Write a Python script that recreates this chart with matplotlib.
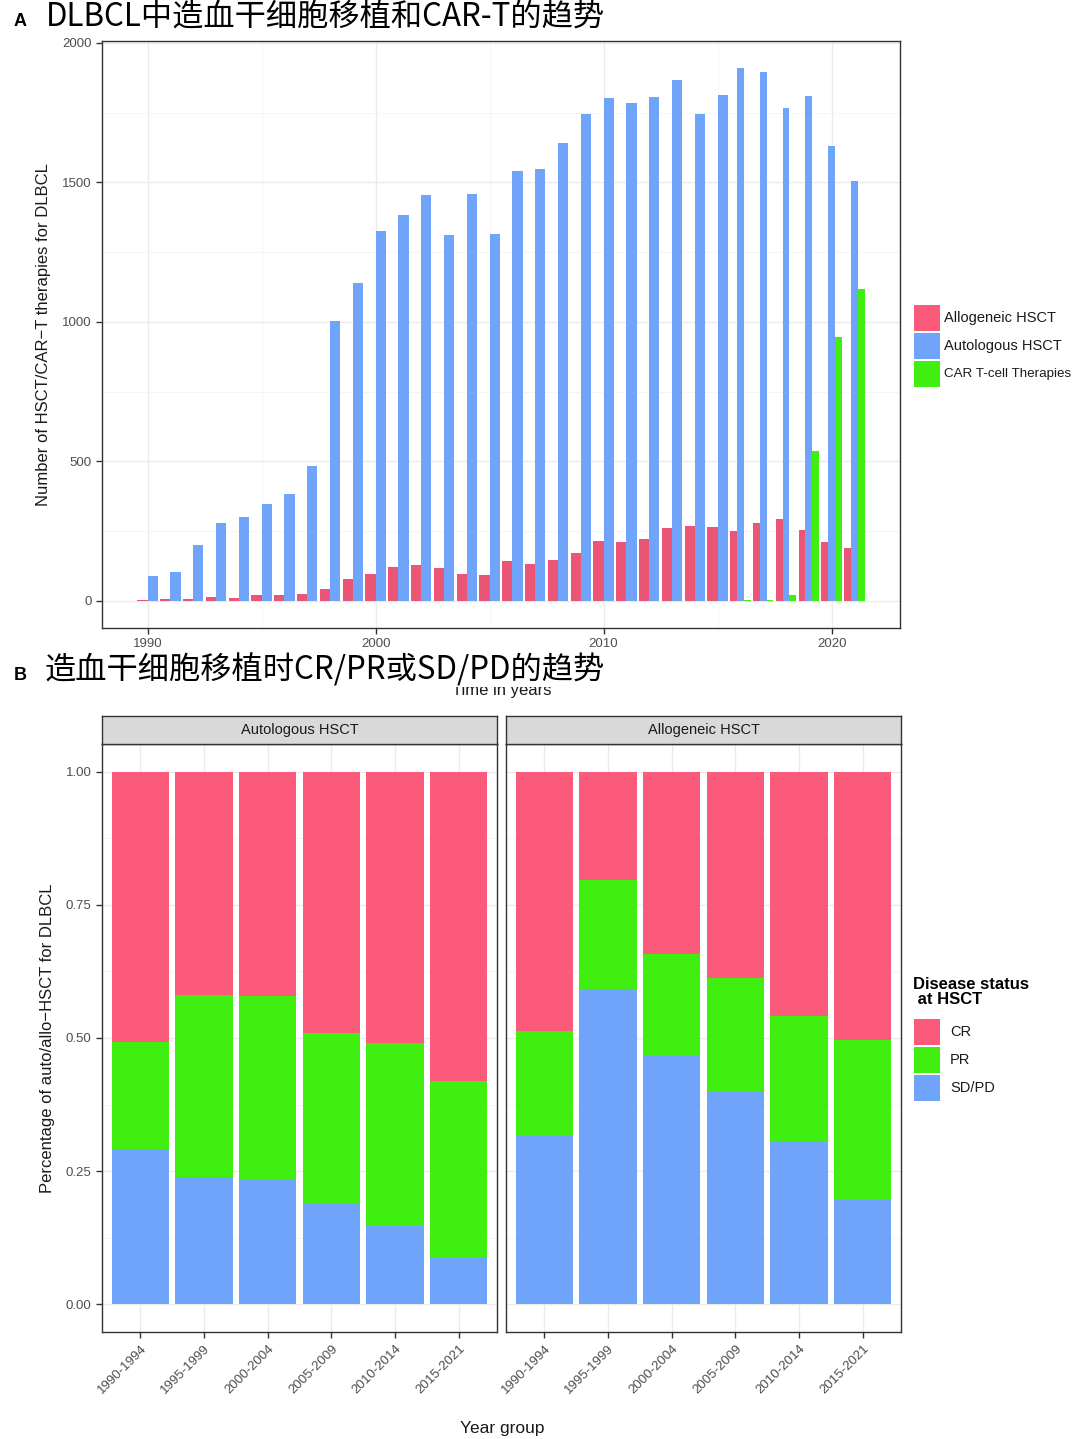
import numpy as np
import matplotlib
matplotlib.use("Agg")
from matplotlib import pyplot as plt
from matplotlib.patches import Rectangle

# ---- data, panel A (counts per year) ----
years = list(range(1990, 2022))
allo = [5, 8, 6, 13, 10, 22, 22, 26, 42, 80, 95, 120, 129, 117, 96, 92,
        142, 133, 147, 171, 214, 213, 222, 260, 269, 266, 251, 281, 294, 255, 212, 191]
auto = [90, 104, 200, 280, 301, 348, 383, 484, 1004, 1140, 1326, 1383, 1455, 1312, 1459, 1315,
        1541, 1548, 1642, 1746, 1803, 1785, 1806, 1867, 1746, 1814, 1910, 1896, 1767, 1810, 1631, 1505]
cart = [None] * 26 + [3, 5, 23, 538, 946, 1118]

# ---- data, panel B (proportions) ----
year_groups = ["1990-1994", "1995-1999", "2000-2004", "2005-2009", "2010-2014", "2015-2021"]
auto_sd = [0.289, 0.238, 0.233, 0.188, 0.146, 0.086]
auto_pr = [0.204, 0.342, 0.345, 0.322, 0.344, 0.334]
allo_sd = [0.315, 0.591, 0.467, 0.400, 0.304, 0.195]
allo_pr = [0.199, 0.206, 0.190, 0.212, 0.238, 0.302]

RED = "#FB5A7A"
RED_A = "#EC5676"
BLUE = "#6FA4FA"
GREEN = "#40EE10"
GRID = "#EBEBEB"
EDGE = "#333333"
TXT = "#4D4D4D"

plt.rcParams["font.family"] = ["Liberation Sans", "DejaVu Sans"]
CJK = ["Noto Sans CJK SC", "DejaVu Sans"]

fig = plt.figure(figsize=(10.8, 14.39), dpi=100)


def style_axes(ax):
    for s in ax.spines.values():
        s.set_color(EDGE)
        s.set_linewidth(1.0)
    ax.tick_params(colors=EDGE, labelcolor=TXT, labelsize=9.5, length=4, width=1)
    ax.set_axisbelow(True)


# ---------------- panel A ----------------
axA = fig.add_axes([102 / 1080, 1 - 628 / 1439, 798 / 1080, 587 / 1439])
style_axes(axA)
for i, yr in enumerate(years):
    series = [(allo[i], RED_A), (auto[i], BLUE)]
    if cart[i] is not None:
        series.append((cart[i], GREEN))
    n = len(series)
    w = 0.9 / n
    for j, (v, c) in enumerate(series):
        axA.bar(yr - 0.45 + w * (j + 0.5), v, width=w, color=c, linewidth=0)
axA.set_xlim(1988, 2023)
axA.set_ylim(-97, 2007)
axA.set_xticks([1990, 2000, 2010, 2020])
axA.set_xticks([1995, 2005, 2015], minor=True)
axA.set_yticks([0, 500, 1000, 1500, 2000])
axA.set_yticks([250, 750, 1250, 1750], minor=True)
axA.tick_params(which="minor", length=0)
axA.grid(which="major", color=GRID, linewidth=1.0)
axA.grid(which="minor", color="#F4F4F4", linewidth=0.6)
axA.set_ylabel("Number of HSCT/CAR\u2212T therapies for DLBCL", fontsize=12, color="#1A1A1A", labelpad=8)
fig.text(502 / 1080, 1 - 690 / 1439, "Time in years", fontsize=12, color="#1A1A1A",
         ha="center", va="center")

# legend A
for k, (lab, c) in enumerate([("Allogeneic HSCT", RED), ("Autologous HSCT", BLUE),
                              ("CAR T-cell Therapies", GREEN)]):
    y0 = 305 + 28 * k
    fig.patches.append(Rectangle((914 / 1080, 1 - (y0 + 26) / 1439), 26 / 1080, 26 / 1439,
                                 transform=fig.transFigure, color=c, linewidth=0))
    fig.text(944 / 1080, 1 - (y0 + 13) / 1439, lab, fontsize=10.5 if k < 2 else 9.6,
             color="#1A1A1A", ha="left", va="center")

# titles
fig.text(14 / 1080, 1 - 22 / 1439, "A", fontsize=13, fontweight="bold", ha="left", va="center")
fig.text(46 / 1080, 1 - 17 / 1439, "DLBCL中造血干细胞移植和CAR-T的趋势", fontsize=22.5,
         family=CJK, ha="left", va="center")
fig.text(14 / 1080, 1 - 676 / 1439, "B", fontsize=13, fontweight="bold", ha="left", va="center")
fig.text(44 / 1080, 1 - 670 / 1439, "造血干细胞移植时CR/PR或SD/PD的趋势", fontsize=22.5,
         family=CJK, ha="left", va="center",
         bbox=dict(facecolor="white", edgecolor="none", pad=0))

# ---------------- panel B ----------------
x = np.arange(1, len(year_groups) + 1)
for left, title, sd, pr in [(102, "Autologous HSCT", auto_sd, auto_pr),
                            (506, "Allogeneic HSCT", allo_sd, allo_pr)]:
    ax = fig.add_axes([left / 1080, 1 - 1332 / 1439, 395 / 1080, 588 / 1439])
    style_axes(ax)
    sd = np.array(sd)
    pr = np.array(pr)
    cr = 1 - sd - pr
    ax.bar(x, sd, width=0.9, color=BLUE, linewidth=0)
    ax.bar(x, pr, bottom=sd, width=0.9, color=GREEN, linewidth=0)
    ax.bar(x, cr, bottom=sd + pr, width=0.9, color=RED, linewidth=0)
    ax.set_xlim(0.4, 6.6)
    ax.set_ylim(-0.0525, 1.0525)
    ax.set_xticks(x)
    ax.set_xticklabels(year_groups, rotation=45, ha="right", va="top",
                       rotation_mode="anchor", fontsize=9.5)
    ax.set_yticks([0, 0.25, 0.5, 0.75, 1.0])
    ax.set_yticks([0.125, 0.375, 0.625, 0.875], minor=True)
    ax.tick_params(which="minor", length=0)
    ax.grid(which="major", color=GRID, linewidth=1.0)
    ax.grid(which="minor", color="#F4F4F4", linewidth=0.6)
    if left == 102:
        ax.set_yticklabels(["0.00", "0.25", "0.50", "0.75", "1.00"])
        ax.set_ylabel("Percentage of auto/allo\u2212HSCT for DLBCL", fontsize=12,
                      color="#1A1A1A", labelpad=8)
    else:
        ax.set_yticklabels([])
        ax.tick_params(axis="y", length=0)
    # facet strip
    strip = fig.add_axes([left / 1080, 1 - 744 / 1439, 395 / 1080, 28 / 1439])
    strip.set_facecolor("#D9D9D9")
    strip.set_xticks([])
    strip.set_yticks([])
    for s in strip.spines.values():
        s.set_color(EDGE)
        s.set_linewidth(1.0)
    strip.text(0.5, 0.5, title, fontsize=10.5, color="#1A1A1A", ha="center", va="center",
               transform=strip.transAxes)

fig.text(502 / 1080, 1 - 1428 / 1439, "Year group", fontsize=12.5, color="#1A1A1A",
         ha="center", va="center")

# legend B
fig.text(913 / 1080, 1 - 992 / 1439, "Disease status\n at HSCT", fontsize=12, fontweight="bold",
         ha="left", va="center", linespacing=1.0)
for k, (lab, c) in enumerate([("CR", RED), ("PR", GREEN), ("SD/PD", BLUE)]):
    y0 = 1019 + 28 * k
    fig.patches.append(Rectangle((914 / 1080, 1 - (y0 + 26) / 1439), 26 / 1080, 26 / 1439,
                                 transform=fig.transFigure, color=c, linewidth=0))
    fig.text(950 / 1080, 1 - (y0 + 13) / 1439, lab, fontsize=10.5, color="#1A1A1A",
             ha="left", va="center")

fig.savefig("out.png", dpi=100, facecolor="white")
